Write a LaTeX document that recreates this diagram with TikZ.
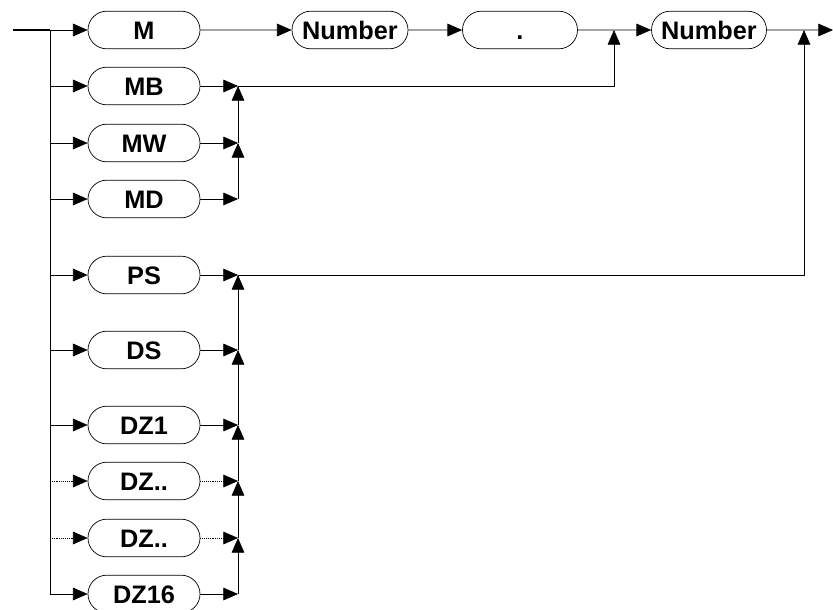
\documentclass[tikz,border=0pt]{standalone}
\usepackage{fontspec}
\setmainfont{Liberation Sans}
\usetikzlibrary{arrows.meta,shapes.misc}

\begin{document}
\begin{tikzpicture}[x=0.03cm, y=-0.03cm, >={Triangle[length=0.44cm,width=0.38cm]},
  every node/.style={rounded rectangle, draw, line width=0.6pt, minimum width=3.36cm, minimum height=1.13cm, inner sep=0pt, text height=15.4pt, text depth=0pt, font=\fontsize{21.6}{24}\selectfont\bfseries},
  conn/.style={line width=0.6pt}]
\useasboundingbox (0,0) rectangle (833,609);
\node (M) at (144,30) {M};
\foreach \n/\lbl/\y in {MB/MB/86, MW/MW/143, MD/MD/199, PS/PS/275, DS/DS/350, DZa/DZ1/425, DZb/DZ../481, DZc/DZ../538, DZd/DZ16/594}
  \node (\n) at (144,\y) {\lbl};
\node[minimum width=3.48cm] (num1) at (350,30) {Number};
\node[minimum width=3.45cm] (dot) at (520,30) {.};
\node[minimum width=3.45cm] (num2) at (709,30) {Number};

\coordinate (start) at (13,30);
\coordinate (split) at (50,30);
\coordinate (splitend) at (50,594);
\coordinate (mj) at (238,86);
\coordinate (pj) at (238,275);
\coordinate (dj) at (614,30);
\coordinate (nj) at (804,30);
\coordinate (end) at (833,30);

% entry and split
\draw[line width=1.2pt] (start) -- (split);
\draw[conn] (split) -- (splitend);
\foreach \n in {M, MB, MW, MD, PS, DS, DZa, DZd}
  \draw[conn,->] (\n.west -| split) -- (\n.west);
\foreach \n in {DZb, DZc}
  \draw[conn,->,densely dotted] (\n.west -| split) -- (\n.west);

% top row
\draw[conn,->] (M) -- (num1);
\draw[conn,->] (num1) -- (dot);
\draw[conn,->] (dot) -- (num2);
\draw[conn,->] (num2) -- (end);

% M group
\foreach \n in {MB, MW, MD}
  \draw[conn,->] (\n.east) -- (\n.east -| mj);
\foreach \lo/\hi in {MW/MB, MD/MW}
  \draw[conn,->] (\lo.east -| mj) -- (\hi.east -| mj);
\draw[conn,->] (mj) -| (dj);

% P and D group
\foreach \n in {PS, DS, DZa, DZd}
  \draw[conn,->] (\n.east) -- (\n.east -| pj);
\foreach \n in {DZb, DZc}
  \draw[conn,->,densely dotted] (\n.east) -- (\n.east -| pj);
\foreach \lo/\hi in {DS/PS, DZa/DS, DZb/DZa, DZc/DZb, DZd/DZc}
  \draw[conn,->] (\lo.east -| pj) -- (\hi.east -| pj);
\draw[conn,->] (pj) -| (nj);
\end{tikzpicture}
\end{document}
